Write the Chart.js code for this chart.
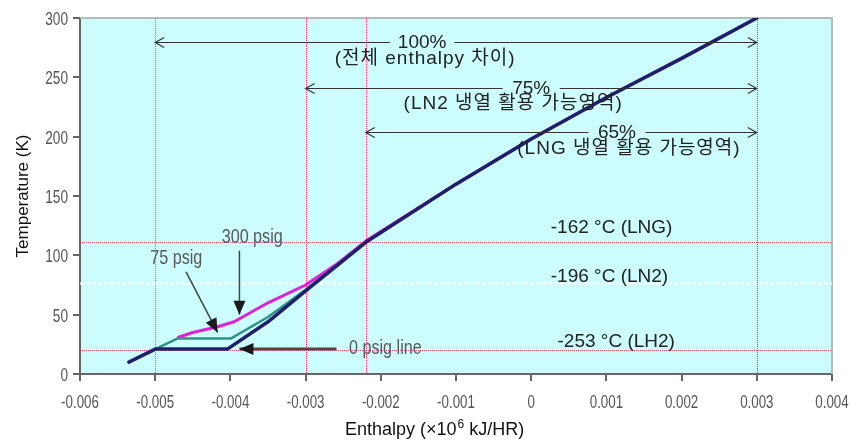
<!DOCTYPE html>
<html>
<head>
<meta charset="utf-8">
<script src="https://cdn.jsdelivr.net/npm/chart.js@4.4.1/dist/chart.umd.min.js"></script>
<style>
  html, body { margin: 0; padding: 0; background: #fff; }
  #wrap { width: 852px; height: 440px; }
</style>
</head>
<body>
<div id="wrap"><canvas id="chart" width="852" height="440"></canvas></div>
<script>
// Axis ticks
const xTickValues = [-0.006, -0.005, -0.004, -0.003, -0.002, -0.001, 0, 0.001, 0.002, 0.003, 0.004];
const yTickValues = [0, 50, 100, 150, 200, 250, 300];

// Cooling curves (enthalpy x10^6 kJ/HR, temperature K)
const enthalpy0psig = [-0.00535, -0.005, -0.00404, -0.0035, -0.003, -0.0022, -0.001, 0, 0.001, 0.002, 0.003];
const temp0psig = [10, 21, 21, 44, 70, 111, 160, 198, 233, 266, 300];

const enthalpy75psig = [-0.005, -0.0047, -0.00399, -0.0035, -0.003, -0.0026, -0.0022, -0.001, 0, 0.001, 0.002, 0.003];
const temp75psig = [21, 30, 30, 48, 71, 91, 111, 160, 198, 233, 266, 300];

const enthalpy300psig = [-0.00469, -0.0045, -0.00416, -0.00395, -0.0035, -0.003, -0.0026, -0.0022, -0.001, 0, 0.001, 0.002, 0.003];
const temp300psig = [31, 35, 40, 44, 60, 75, 92, 112, 160, 198, 233, 266, 300];

// Reference lines
const guideEnthalpy = [-0.005, -0.003, -0.0022, 0.003];
const guideTemps = [111, 77, 20];
const levelLabels = ["-162 °C (LNG)", "-196 °C (LN2)", "-253 °C (LH2)"];
const levelLabelX = [0.00026, 0.00026, 0.00035];
const levelLabelTemps = [123, 82, 27];

// Enthalpy span arrows
const spanStarts = [-0.005, -0.003, -0.0022];
const spanEnds = [0.003, 0.003, 0.003];
const spanTemps = [280, 241, 204];
const spanPercents = ["100%", "75%", "65%"];
const spanPercentX = [-0.00145, 0, 0.00114];
const spanNotes = ["(전체 enthalpy 차이)", "(LN2 냉열 활용 가능영역)", "(LNG 냉열 활용 가능영역)"];
const spanNoteX = [-0.00141, -0.00024, 0.0013];
const spanNoteTemps = [266, 228, 190];

// Pressure callouts
const pressureLabels = ["300 psig", "75 psig", "0 psig line"];
const pressureLabelX = [-0.00371, -0.00472, -0.00194];
const pressureLabelTemps = [115, 98, 22];
const pressureArrowFromX = [-0.00388, -0.00459, -0.00259];
const pressureArrowFromT = [104, 86, 21];
const pressureArrowToX = [-0.00388, -0.00417, -0.00388];
const pressureArrowToT = [50, 35, 21];

const textFont = "'Liberation Sans', Arial, 'Noto Sans CJK KR', sans-serif";

function toPoints(xs, ys) {
  return xs.map((x, i) => ({ x: x, y: ys[i] }));
}

// text squeezed horizontally, like the condensed labels of the original
function narrowText(ctx, text, x, y, sx, align) {
  const w = ctx.measureText(text).width * sx;
  let left = x;
  if (align === "center") left = x - w / 2;
  if (align === "right") left = x - w;
  ctx.save();
  ctx.textAlign = "left";
  ctx.translate(left, y);
  ctx.scale(sx, 1);
  ctx.fillText(text, 0, 0);
  ctx.restore();
}

function openHead(ctx, x, y, dir) {
  ctx.beginPath();
  ctx.moveTo(x - dir * 9, y - 5);
  ctx.lineTo(x, y);
  ctx.lineTo(x - dir * 9, y + 5);
  ctx.stroke();
}

function filledHead(ctx, x1, y1, x2, y2) {
  const ang = Math.atan2(y2 - y1, x2 - x1);
  const len = 14, half = 6;
  const bx = x2 - Math.cos(ang) * len, by = y2 - Math.sin(ang) * len;
  ctx.beginPath();
  ctx.moveTo(x2, y2);
  ctx.lineTo(bx + Math.sin(ang) * half, by - Math.cos(ang) * half);
  ctx.lineTo(bx - Math.sin(ang) * half, by + Math.cos(ang) * half);
  ctx.closePath();
  ctx.fill();
}

const overlayPlugin = {
  id: "overlay",
  beforeDraw(chart) {
    const { ctx, chartArea: a } = chart;
    ctx.save();
    ctx.fillStyle = "#ccfcfc";
    ctx.fillRect(a.left, a.top, a.right - a.left, a.bottom - a.top);
    ctx.restore();
  },
  beforeDatasetsDraw(chart) {
    const { ctx, chartArea: a, scales } = chart;
    const xs = scales.x, ys = scales.y;
    ctx.save();
    // top / right frame
    ctx.strokeStyle = "#b4bcbc";
    ctx.lineWidth = 2;
    ctx.beginPath();
    ctx.moveTo(a.left, a.top);
    ctx.lineTo(a.right, a.top);
    ctx.lineTo(a.right, a.bottom);
    ctx.stroke();

    ctx.lineWidth = 1;
    // vertical guides
    guideEnthalpy.forEach((v, i) => {
      const px = Math.round(xs.getPixelForValue(v)) + 0.5;
      ctx.strokeStyle = i === 0 ? "rgba(110,110,110,0.8)" : "rgba(235,40,80,0.95)";
      ctx.setLineDash([1, 1]);
      ctx.beginPath();
      ctx.moveTo(px, a.top);
      ctx.lineTo(px, a.bottom);
      ctx.stroke();
    });
    // horizontal guides
    guideTemps.forEach((t, i) => {
      const py = Math.round(ys.getPixelForValue(t)) + 0.5;
      ctx.strokeStyle = i === 1 ? "rgba(255,255,255,0.95)" : "rgba(200,50,80,0.85)";
      ctx.lineWidth = i === 1 ? 2 : 1;
      ctx.setLineDash(i === 1 ? [4, 2] : [1, 1]);
      ctx.beginPath();
      ctx.moveTo(a.left, py);
      ctx.lineTo(a.right, py);
      ctx.stroke();
    });
    ctx.restore();
  },
  afterDatasetsDraw(chart) {
    const { ctx, scales } = chart;
    const xs = scales.x, ys = scales.y;
    ctx.save();
    ctx.textBaseline = "middle";

    // span arrows with percentages
    ctx.font = "19px " + textFont;
    spanStarts.forEach((s, i) => {
      const x1 = xs.getPixelForValue(s);
      const x2 = xs.getPixelForValue(spanEnds[i]);
      const py = Math.round(ys.getPixelForValue(spanTemps[i])) + 0.5;
      const cx = xs.getPixelForValue(spanPercentX[i]);
      const w = ctx.measureText(spanPercents[i]).width;
      ctx.strokeStyle = "#333";
      ctx.lineWidth = 1.2;
      ctx.beginPath();
      ctx.moveTo(x1, py);
      ctx.lineTo(cx - w / 2 - 8, py);
      ctx.moveTo(cx + w / 2 + 8, py);
      ctx.lineTo(x2, py);
      ctx.stroke();
      openHead(ctx, x1, py, -1);
      openHead(ctx, x2, py, 1);
      ctx.fillStyle = "#222";
      ctx.textAlign = "center";
      ctx.letterSpacing = "0px";
      ctx.fillText(spanPercents[i], cx, py);
      ctx.letterSpacing = "1px";
      ctx.fillText(spanNotes[i], xs.getPixelForValue(spanNoteX[i]), ys.getPixelForValue(spanNoteTemps[i]));
    });
    ctx.letterSpacing = "0px";

    // liquefaction temperature labels
    ctx.textAlign = "left";
    levelLabels.forEach((t, i) => {
      ctx.fillText(t, xs.getPixelForValue(levelLabelX[i]), ys.getPixelForValue(levelLabelTemps[i]));
    });

    // pressure callouts
    ctx.font = "21px " + textFont;
    pressureLabels.forEach((t, i) => {
      ctx.fillStyle = "#5a5a5a";
      narrowText(ctx, t, xs.getPixelForValue(pressureLabelX[i]), ys.getPixelForValue(pressureLabelTemps[i]), 0.77, "center");
      const x1 = xs.getPixelForValue(pressureArrowFromX[i]);
      const y1 = ys.getPixelForValue(pressureArrowFromT[i]);
      const x2 = xs.getPixelForValue(pressureArrowToX[i]);
      const y2 = ys.getPixelForValue(pressureArrowToT[i]);
      ctx.strokeStyle = i === 2 ? "#5a4444" : "#3a4a4a";
      ctx.fillStyle = "#1a1a1a";
      ctx.lineWidth = i === 2 ? 3 : 1.5;
      ctx.beginPath();
      ctx.moveTo(x1, y1);
      ctx.lineTo(x2, y2);
      ctx.stroke();
      filledHead(ctx, x1, y1, x2, y2);
    });
    ctx.restore();
  },
  afterDraw(chart) {
    const { ctx, scales, chartArea: a } = chart;
    ctx.save();
    // tick labels (condensed)
    ctx.font = "18px " + textFont;
    ctx.fillStyle = "#555";
    ctx.textBaseline = "alphabetic";
    scales.x.ticks.forEach((t) => {
      const label = t.value === 0 ? "0" : t.value.toFixed(3);
      narrowText(ctx, label, scales.x.getPixelForValue(t.value), a.bottom + 34, 0.74, "center");
    });
    scales.y.ticks.forEach((t) => {
      narrowText(ctx, String(t.value), a.left - 12, scales.y.getPixelForValue(t.value) + 7, 0.76, "right");
    });
    ctx.restore();

    ctx.save();
    ctx.fillStyle = "#111";
    ctx.textBaseline = "middle";
    // y title
    ctx.font = "17px " + textFont;
    ctx.translate(23, 196);
    ctx.rotate(-Math.PI / 2);
    ctx.textAlign = "center";
    ctx.fillText("Temperature (K)", 0, 0);
    ctx.restore();

    // x title with superscript
    ctx.save();
    ctx.fillStyle = "#111";
    ctx.textBaseline = "alphabetic";
    const big = "18px " + textFont, small = "12px " + textFont;
    const p1 = "Enthalpy (×10", p2 = "6", p3 = " kJ/HR)";
    ctx.font = big;
    const w1 = ctx.measureText(p1).width, w3 = ctx.measureText(p3).width;
    ctx.font = small;
    const w2 = ctx.measureText(p2).width;
    let x = 434 - (w1 + w2 + w3) / 2;
    const base = 435;
    ctx.font = big;
    ctx.fillText(p1, x, base);
    x += w1;
    ctx.font = small;
    ctx.fillText(p2, x + 1, base - 7);
    x += w2 + 1;
    ctx.font = big;
    ctx.fillText(p3, x, base);
    ctx.restore();
  }
};

const ctx = document.getElementById("chart").getContext("2d");
const chart = new Chart(ctx, {
  type: "line",
  data: {
    datasets: [
      {
        label: "0 psig",
        data: toPoints(enthalpy0psig, temp0psig),
        borderColor: "#1f1f6c",
        borderWidth: 3.5,
      },
      {
        label: "75 psig",
        data: toPoints(enthalpy75psig, temp75psig),
        borderColor: "#2f9286",
        borderWidth: 2.5,
      },
      {
        label: "300 psig",
        data: toPoints(enthalpy300psig, temp300psig),
        borderColor: "#e020d8",
        borderWidth: 3,
      },
    ],
  },
  options: {
    responsive: false,
    animation: false,
    devicePixelRatio: 1,
    layout: { padding: { top: 18, right: 20, left: 0, bottom: 0 } },
    elements: {
      point: { radius: 0 },
      line: { tension: 0, borderCapStyle: "round", borderJoinStyle: "round" },
    },
    plugins: {
      legend: { display: false },
      tooltip: { enabled: false },
    },
    scales: {
      x: {
        type: "linear",
        min: -0.006,
        max: 0.004,
        afterBuildTicks: (s) => { s.ticks = xTickValues.map((v) => ({ value: v })); },
        afterFit: (s) => { s.height = 66; },
        ticks: { display: false },
        grid: { drawOnChartArea: false, tickLength: 7, color: "#666", lineWidth: 2 },
        border: { color: "#666", width: 2 },
      },
      y: {
        min: 0,
        max: 300,
        afterBuildTicks: (s) => { s.ticks = yTickValues.map((v) => ({ value: v })); },
        afterFit: (s) => { s.width = 80; },
        ticks: { display: false },
        grid: { drawOnChartArea: false, tickLength: 7, color: "#666", lineWidth: 2 },
        border: { color: "#666", width: 2 },
      },
    },
  },
  plugins: [overlayPlugin],
});
</script>
</body>
</html>
